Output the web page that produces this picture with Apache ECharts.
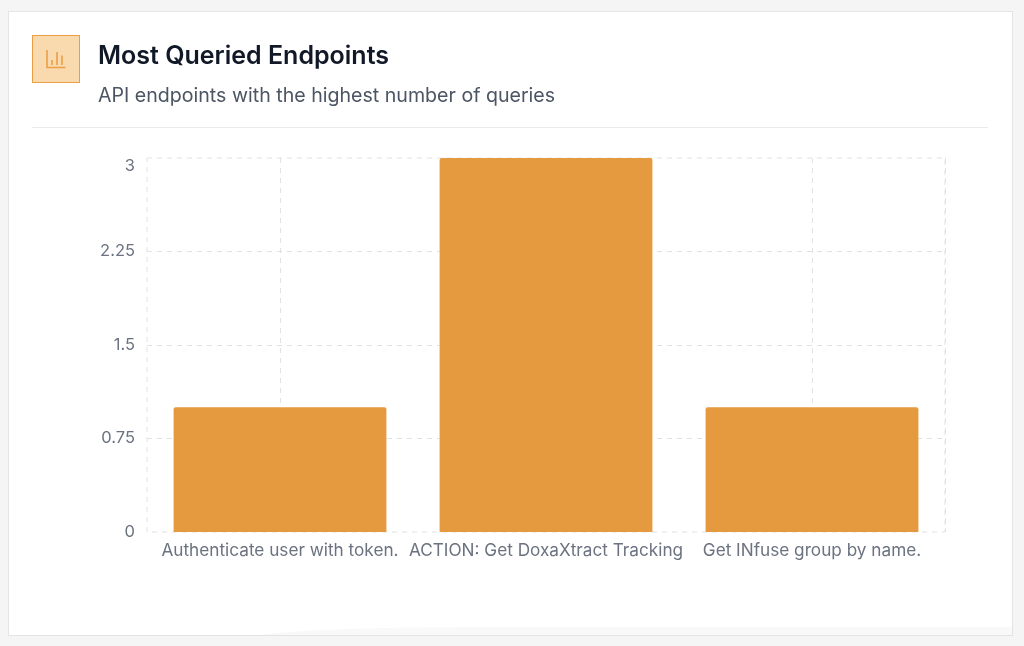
<!DOCTYPE html>
<html>
<head>
<meta charset="utf-8">
<title>Most Queried Endpoints</title>
<script src="https://cdn.jsdelivr.net/npm/echarts@6/dist/echarts.min.js"></script>
<style>
html, body { margin: 0; padding: 0; width: 1024px; height: 646px; overflow: hidden; background: #f5f5f6; font-family: Inter, sans-serif; }
.card { position: absolute; left: 8px; top: 11px; width: 1003px; height: 623px; background: #fff; border: 1px solid #e3e4e7; overflow: hidden; }
.swoosh { position: absolute; left: 250px; top: 615px; width: 760px; height: 10px; border-top-left-radius: 220px 10px; background: #f9f9fa; }
.icon { position: absolute; left: 32px; top: 35px; width: 48px; height: 48px; box-sizing: border-box; background: #f9d9ae; border: 1px solid #eb9f45; }
.title { position: absolute; left: 98px; top: 39px; font-size: 25px; line-height: 32px; font-weight: 600; color: #111827; white-space: nowrap; }
.sub { position: absolute; left: 98px; top: 82px; font-size: 19.6px; line-height: 26px; color: #4b5563; white-space: nowrap; }
.rule { position: absolute; left: 32px; top: 127px; width: 956px; height: 1px; background: #e9eaec; }
#chart { position: absolute; left: 0; top: 0; width: 1024px; height: 646px; }
</style>
</head>
<body>
<div class="card"><div class="swoosh"></div></div>
<div id="chart"></div>
<div class="icon">
	<svg style="position:absolute;left:-1px;top:-1px" width="48" height="48" viewBox="0 0 48 48" fill="none" stroke="#ec9f45" stroke-width="1.6">
		<path d="M15 15V32.5H33.5"/>
		<path d="M20 25V30M25 17V30M30 20.500V30"/>
	</svg>
</div>
<div class="title">Most Queried Endpoints</div>
<div class="sub">API endpoints with the highest number of queries</div>
<div class="rule"></div>
<script>
var categories = ['Authenticate user with token.', 'ACTION: Get DoxaXtract Tracking', 'Get INfuse group by name.'];
var queryCounts = [1, 3, 1];
var yTicks = { min: 0, max: 3, interval: 0.75 };
// half-band slots, only used to put the dashed vertical lines on the bar centres
var gridSlots = ['', '', '', '', '', ''];
var barColor = '#e59a3f';
var gridColor = '#e0e2e6';
var labelColor = '#6b7280';

var myChart = echarts.init(document.getElementById('chart'));
var option = {
	animation: false,
	grid: {
		show: true,
		left: 147,
		right: 79,
		top: 158,
		bottom: 114,
		borderColor: gridColor,
		borderWidth: 1,
		borderType: [5, 5],
		backgroundColor: 'transparent'
	},
	xAxis: [{
		type: 'category',
		data: categories,
		axisLine: { show: false },
		axisTick: { show: false },
		axisLabel: { color: labelColor, fontFamily: 'Inter', fontSize: 17.2, margin: 10, interval: 0 }
	}, {
		type: 'category',
		data: gridSlots,
		position: 'bottom',
		axisLine: { show: false },
		axisTick: { show: false },
		axisLabel: { show: false },
		splitLine: {
			show: true,
			interval: function(index) {
				return index % 2 == 1;
			},
			lineStyle: { color: gridColor, width: 1, type: [5, 5] }
		}
	}],
	yAxis: [{
		type: 'value',
		min: yTicks.min,
		max: yTicks.max,
		interval: yTicks.interval,
		axisLine: { show: false },
		axisTick: { show: false },
		axisLabel: { color: labelColor, fontFamily: 'Inter', fontSize: 16.5, margin: 12, verticalAlignMaxLabel: 'top' },
		splitLine: { show: true, showMinLine: false, showMaxLine: false, lineStyle: { color: gridColor, width: 1, type: [5, 5] } }
	}],
	series: [{
		name: 'Queries',
		type: 'bar',
		xAxisIndex: 0,
		barWidth: '80%',
		itemStyle: { color: barColor, borderRadius: [2, 2, 0, 0] },
		data: queryCounts
	}]
};
myChart.setOption(option);
window.onresize = myChart.resize;
</script>
</body>
</html>
